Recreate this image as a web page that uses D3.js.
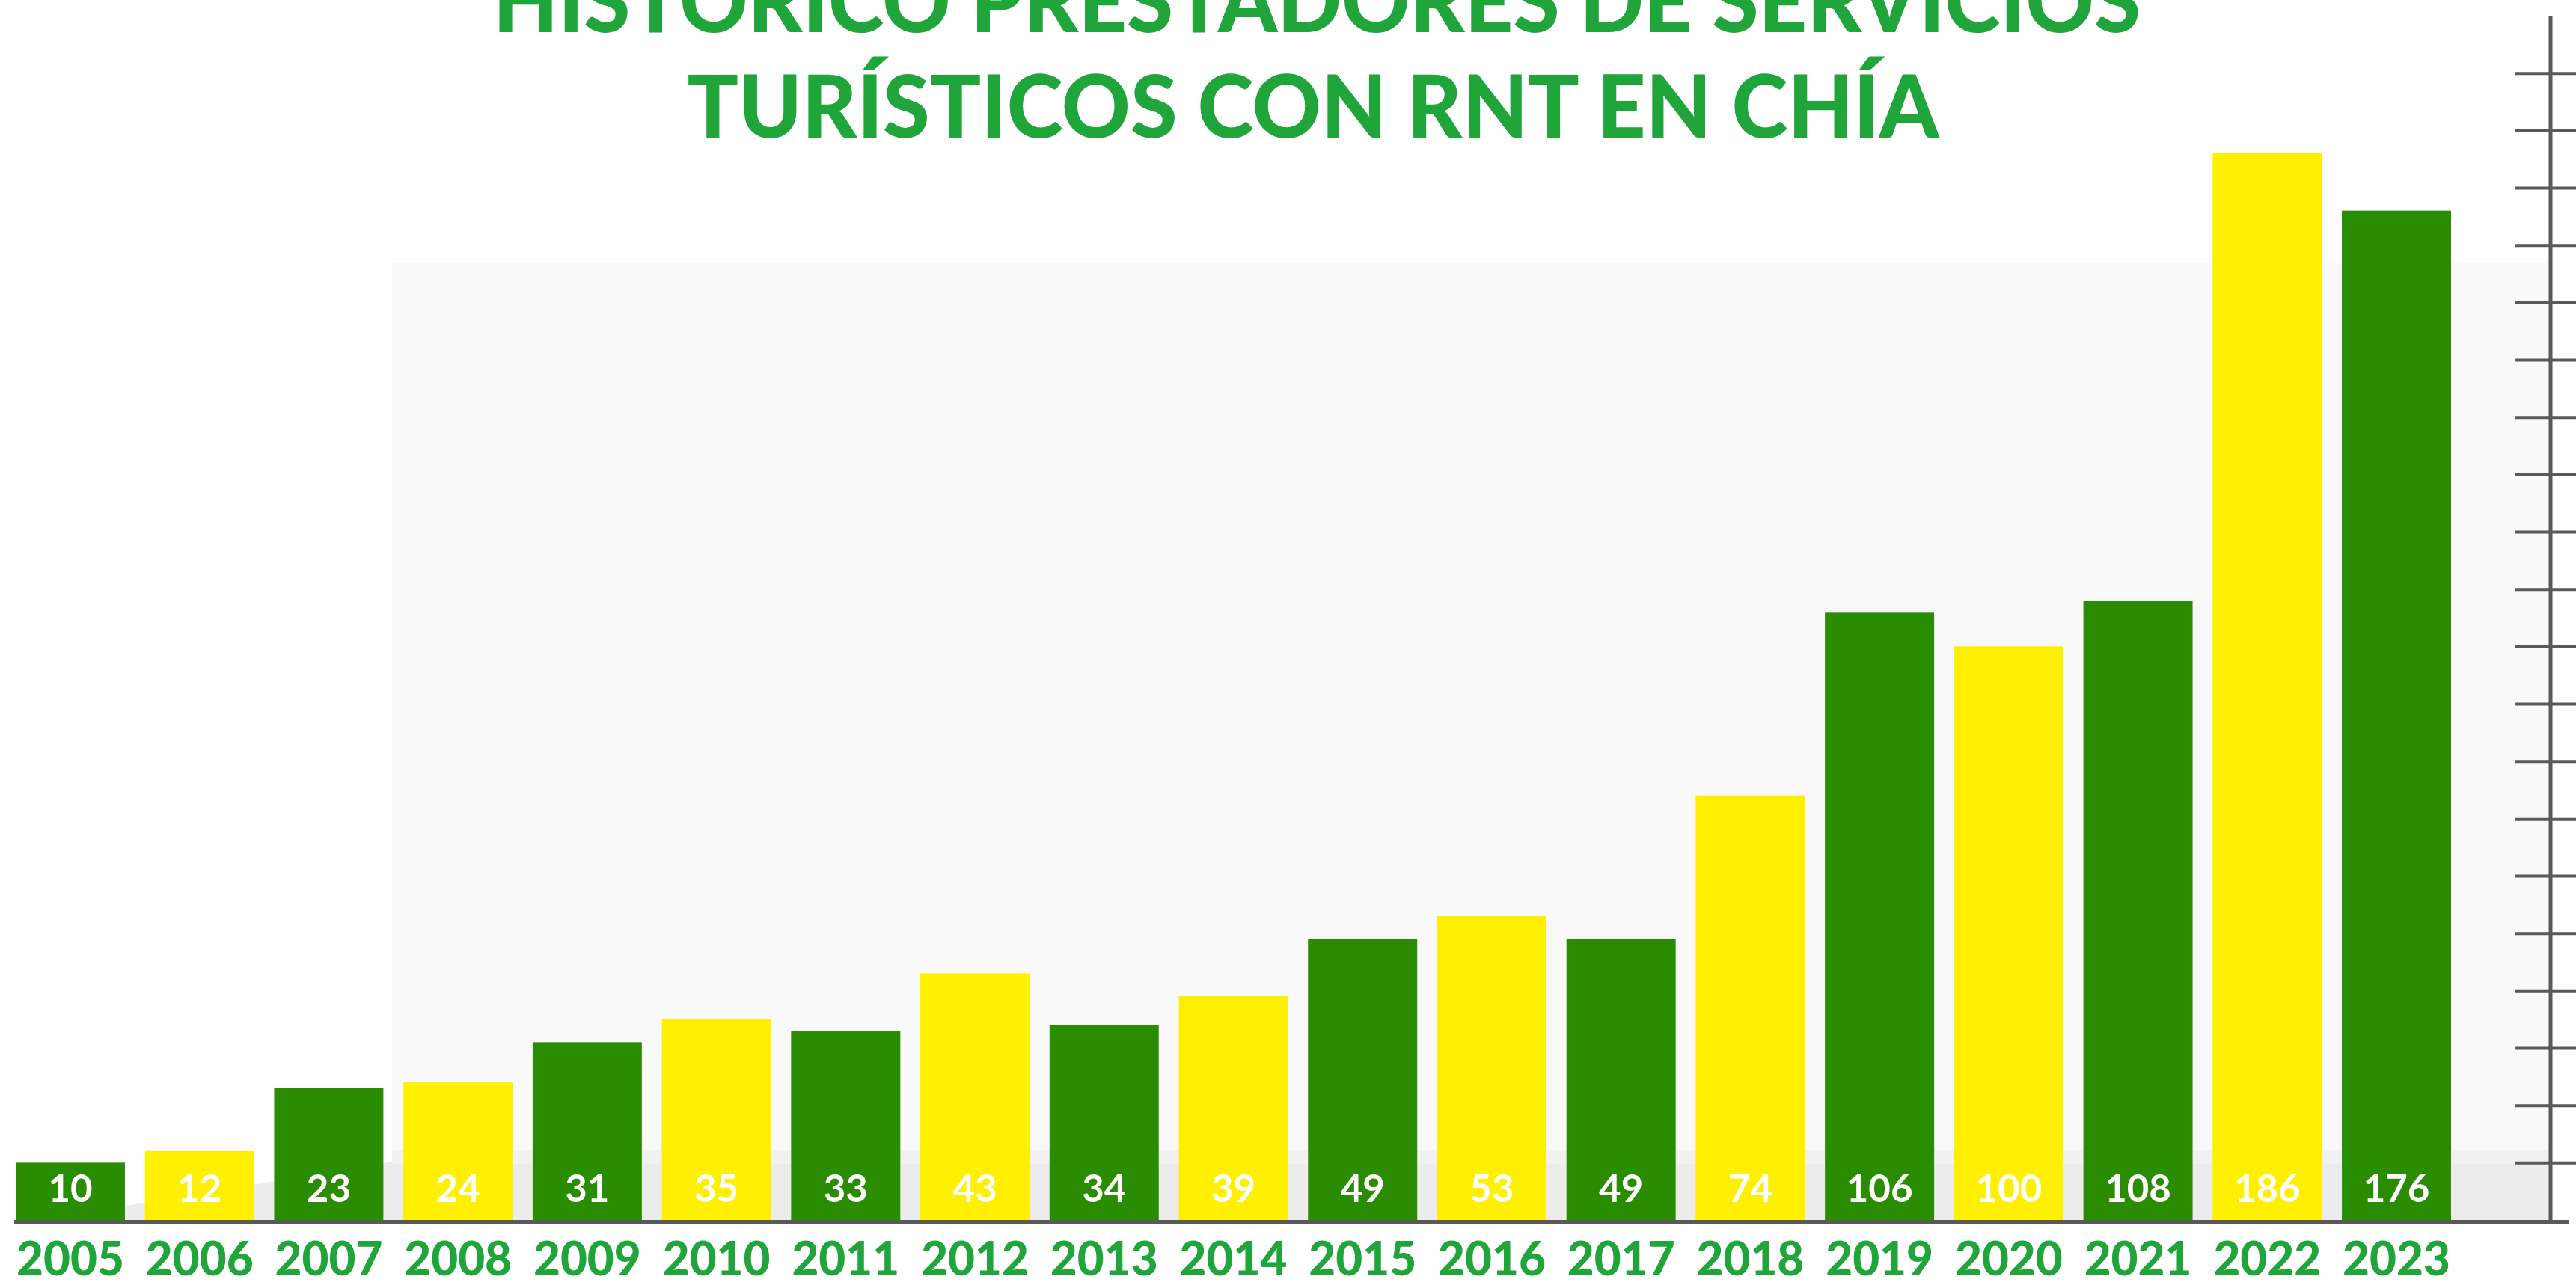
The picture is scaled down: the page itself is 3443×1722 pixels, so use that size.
<!DOCTYPE html>
<html>
<head>
<meta charset="utf-8">
<script src="https://cdn.jsdelivr.net/npm/d3@7"></script>
<style>
  body { margin: 0; background: #ffffff; }
  svg { display: block; }
</style>
</head>
<body>
<div id="chart"></div>
<script>
// Data
const years = ["2005", "2006", "2007", "2008", "2009", "2010", "2011", "2012", "2013", "2014",
               "2015", "2016", "2017", "2018", "2019", "2020", "2021", "2022", "2023"];
const values = [10, 12, 23, 24, 31, 35, 33, 43, 34, 39, 49, 53, 49, 74, 106, 100, 108, 186, 176];
const titleLines = ["HISTÓRICO PRESTADORES DE SERVICIOS", "TURÍSTICOS CON RNT EN CHÍA"];
const barColors = ["#2a8c00", "#fff000"];

const width = 3443;
const height = 1722;
const baseY = 1631;

const svg = d3.select("#chart")
    .append("svg")
    .attr("width", width)
    .attr("height", height);

// Scales
const x = d3.scaleBand()
    .domain(years)
    .range([21, 3276])
    .paddingInner(0.155)
    .paddingOuter(0);

const y = d3.scaleLinear()
    .domain([0, 210])
    .range([baseY, 21]);

// Background panel and floor
svg.append("rect")
    .attr("x", 524).attr("y", 351)
    .attr("width", 3407 - 524).attr("height", baseY - 351)
    .attr("fill", "#f9f9f9");

svg.append("rect")
    .attr("x", 524).attr("y", 1537)
    .attr("width", 3407 - 524).attr("height", 19)
    .attr("fill", "#f1f1f1");

svg.append("rect")
    .attr("x", 524).attr("y", 1556)
    .attr("width", 3407 - 524).attr("height", baseY - 1556)
    .attr("fill", "#ececec");

svg.append("polygon")
    .attr("points", `54,${baseY} 524,1553 524,${baseY}`)
    .attr("fill", "#ececec");

// Bars
svg.selectAll(".bar")
    .data(values)
    .enter().append("rect")
    .attr("class", "bar")
    .attr("x", (d, i) => x(years[i]))
    .attr("y", d => y(d))
    .attr("width", x.bandwidth())
    .attr("height", d => baseY - y(d))
    .attr("fill", (d, i) => barColors[i % 2]);

// Value labels inside bars
svg.selectAll(".val")
    .data(values)
    .enter().append("text")
    .attr("class", "val")
    .attr("x", (d, i) => x(years[i]) + x.bandwidth() / 2)
    .attr("y", 1607)
    .attr("text-anchor", "middle")
    .style("font-family", "Lato, 'Open Sans', sans-serif")
    .style("font-weight", "700")
    .style("font-size", "51px")
    .attr("fill", "#ffffff")
    .text(d => d);

// Right axis with ticks crossing the line
const axis = svg.append("g")
    .attr("transform", `translate(3409,0)`)
    .call(d3.axisRight(y).tickValues(d3.range(10, 201, 10)).tickFormat("").tickSize(40));

axis.select(".domain").remove();
axis.selectAll(".tick line")
    .attr("x1", -47)
    .attr("x2", 40)
    .attr("stroke", "#595959")
    .attr("stroke-width", 4);

axis.append("line")
    .attr("x1", 0).attr("x2", 0)
    .attr("y1", y(210)).attr("y2", baseY + 3)
    .attr("stroke", "#595959")
    .attr("stroke-width", 5);

// Baseline
svg.append("line")
    .attr("x1", 19).attr("x2", 3434)
    .attr("y1", baseY + 2.5).attr("y2", baseY + 2.5)
    .attr("stroke", "#595959")
    .attr("stroke-width", 5);

// Year labels
svg.selectAll(".year")
    .data(years)
    .enter().append("text")
    .attr("class", "year")
    .attr("x", d => x(d) + x.bandwidth() / 2)
    .attr("y", 1705)
    .attr("text-anchor", "middle")
    .style("font-family", "Lato, 'Open Sans', sans-serif")
    .style("font-weight", "900")
    .style("font-size", "62px")
    .attr("fill", "#1fa53a")
    .text(d => d);

// Title
const titleInfo = [
    {cx: 1760, y: 43, len: 2202},
    {cx: 1755, y: 184, len: 1673}
];
svg.selectAll(".title")
    .data(titleLines)
    .enter().append("text")
    .attr("class", "title")
    .attr("x", (d, i) => titleInfo[i].cx)
    .attr("y", (d, i) => titleInfo[i].y)
    .attr("text-anchor", "middle")
    .attr("textLength", (d, i) => titleInfo[i].len)
    .attr("lengthAdjust", "spacingAndGlyphs")
    .style("font-family", "Lato, 'Open Sans', sans-serif")
    .style("font-weight", "900")
    .style("font-size", "117px")
    .attr("fill", "#1fa53a")
    .text(d => d);
</script>
</body>
</html>
